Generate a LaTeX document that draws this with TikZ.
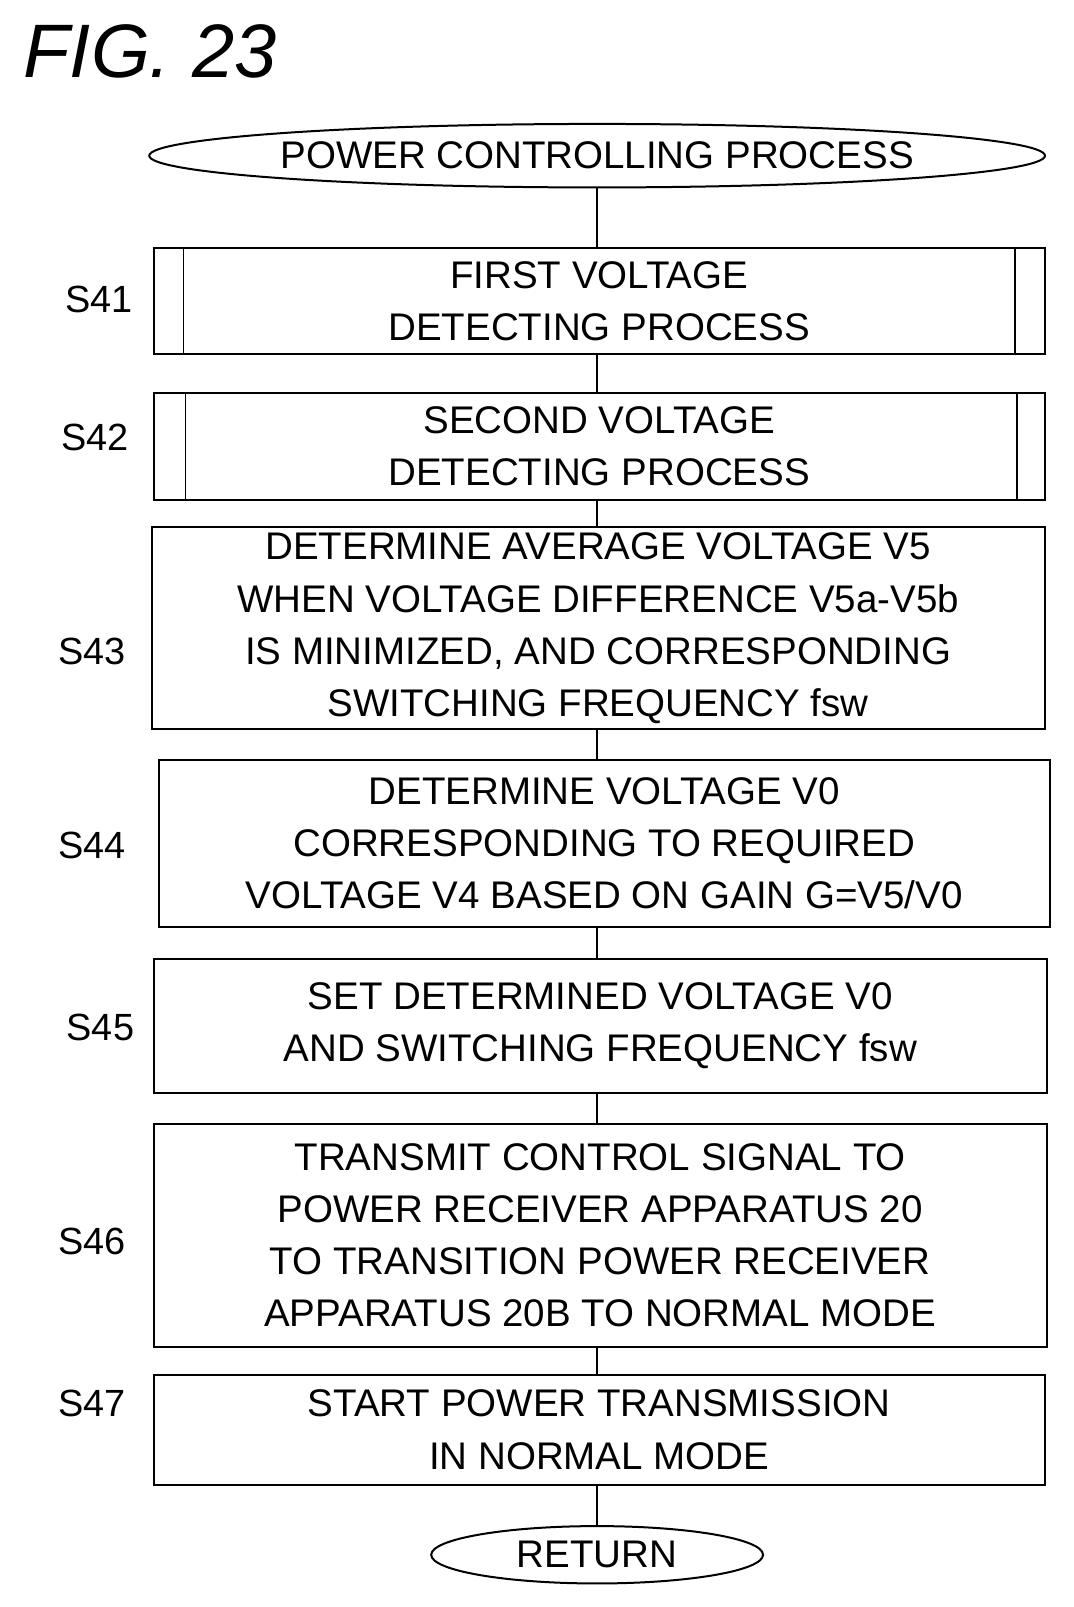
\documentclass[tikz,border=0pt]{standalone}
\usepackage{fontspec}
\setmainfont{Liberation Sans}
\usetikzlibrary{shapes.geometric}
\begin{document}
\begin{tikzpicture}[x=0.5pt,y=-0.5pt,scale=1.024,transform shape,
  box/.style={draw,line width=1pt,align=center,inner sep=0pt,font=\fontsize{18.8}{25.5}\selectfont},
  term/.style={draw,ellipse,line width=1pt,inner sep=0pt,font=\fontsize{18.8}{25.5}\selectfont},
  lab/.style={font=\fontsize{18.5}{22}\selectfont},
  con/.style={line width=0.8pt}]
\useasboundingbox (0,0) rectangle (1048,1569);
\node[anchor=west,font=\fontsize{37}{42}\selectfont\itshape] (title) at (16,50) {FIG. 23};
\node[term,minimum width=435pt,minimum height=31pt] (start) at (583,152) {POWER CONTROLLING PROCESS};
\node[box,minimum width=435pt,minimum height=52pt] (s41) at (585,294) {FIRST VOLTAGE\\DETECTING PROCESS};
\draw[line width=0.8pt] ([xshift=15pt]s41.north west) -- ([xshift=15pt]s41.south west)
  ([xshift=-15pt]s41.north east) -- ([xshift=-15pt]s41.south east);
\node[box,minimum width=435pt,minimum height=52pt] (s42) at (585,436) {SECOND VOLTAGE\\DETECTING PROCESS};
\draw[line width=0.8pt] ([xshift=16pt]s42.north west) -- ([xshift=16pt]s42.south west)
  ([xshift=-14pt]s42.north east) -- ([xshift=-14pt]s42.south east);
\node[box,minimum width=436pt,minimum height=98.5pt] (s43) at (584,613.5) {DETERMINE AVERAGE VOLTAGE V5\\WHEN VOLTAGE DIFFERENCE V5a-V5b\\IS MINIMIZED, AND CORRESPONDING\\SWITCHING FREQUENCY fsw};
\node[box,minimum width=435pt,minimum height=81.5pt] (s44) at (590,823.5) {DETERMINE VOLTAGE V0\\CORRESPONDING TO REQUIRED\\VOLTAGE V4 BASED ON GAIN G=V5/V0};
\node[box,minimum width=436pt,minimum height=65.5pt] (s45) at (586,1001.5) {SET DETERMINED VOLTAGE V0\\AND SWITCHING FREQUENCY fsw};
\node[box,minimum width=436pt,minimum height=109pt] (s46) at (586,1206) {TRANSMIT CONTROL SIGNAL TO\\POWER RECEIVER APPARATUS 20\\TO TRANSITION POWER RECEIVER\\APPARATUS 20B TO NORMAL MODE};
\node[box,minimum width=435pt,minimum height=54pt] (s47) at (585,1396) {START POWER TRANSMISSION\\IN NORMAL MODE};
\node[term,minimum width=162pt,minimum height=28pt] (ret) at (583,1518) {RETURN};
\node[lab] (l41) at (97,292) {S41};
\node[lab] (l42) at (93,427) {S42};
\node[lab] (l43) at (90,636) {S43};
\node[lab] (l44) at (90,825) {S44};
\node[lab] (l45) at (98,1003) {S45};
\node[lab] (l46) at (90,1212) {S46};
\node[lab] (l47) at (90,1370) {S47};
\draw[con] (start.south) -- (start.south |- s41.north);
\draw[con] (start.south |- s41.south) -- (start.south |- s42.north);
\draw[con] (start.south |- s42.south) -- (start.south |- s43.north);
\draw[con] (start.south |- s43.south) -- (start.south |- s44.north);
\draw[con] (start.south |- s44.south) -- (start.south |- s45.north);
\draw[con] (start.south |- s45.south) -- (start.south |- s46.north);
\draw[con] (start.south |- s46.south) -- (start.south |- s47.north);
\draw[con] (start.south |- s47.south) -- (ret.north);
\end{tikzpicture}
\end{document}
